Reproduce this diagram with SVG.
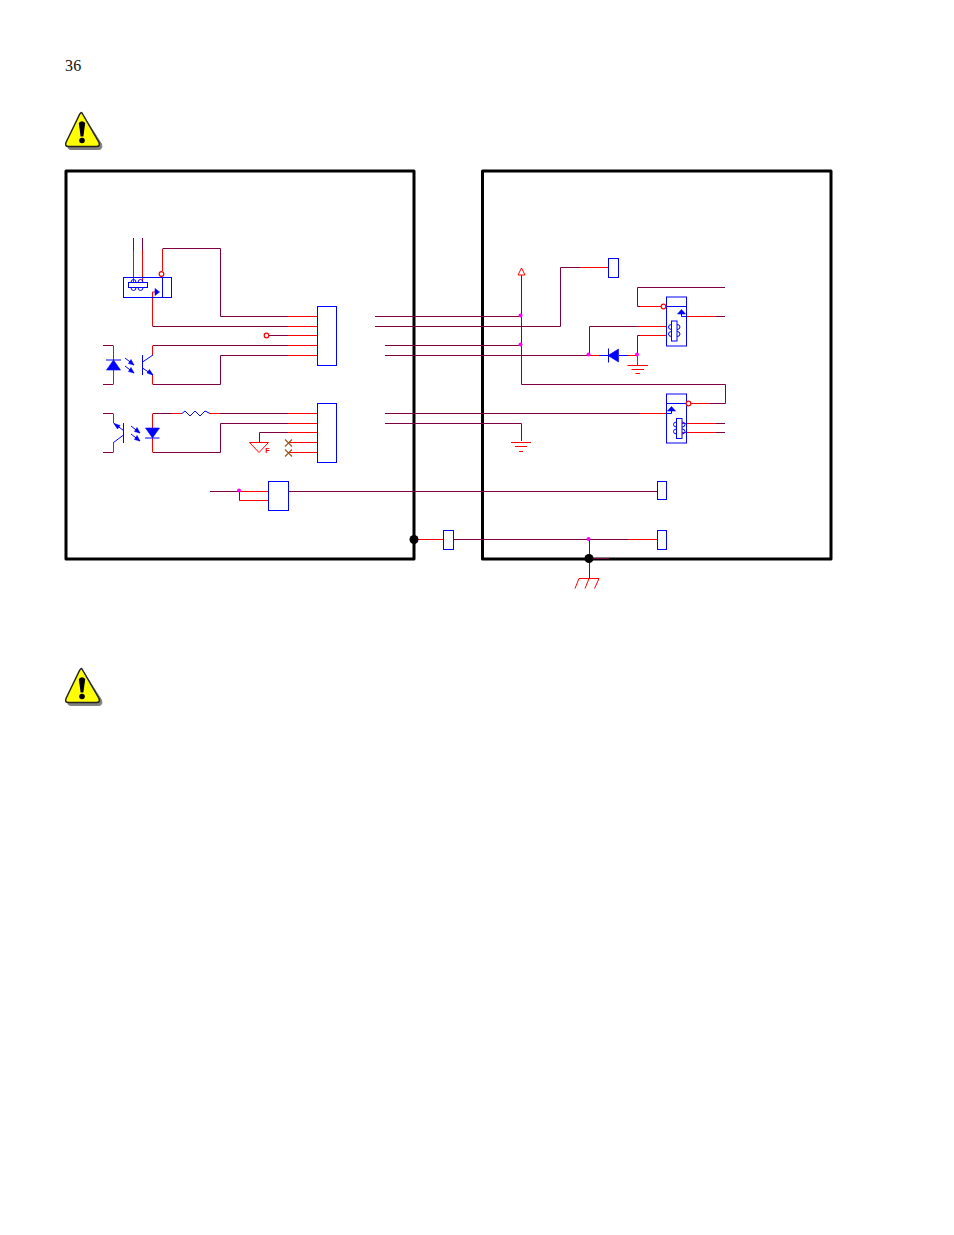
<svg xmlns="http://www.w3.org/2000/svg" width="954" height="1235" viewBox="0 0 954 1235">
<style>
.w{fill:none;stroke:#7f0040;stroke-width:1}
.r{fill:none;stroke:#f00;stroke-width:1}
.b{fill:none;stroke:#00f;stroke-width:1}
.bh{fill:#fff;stroke:#00f;stroke-width:1}
.bf{fill:#00f;stroke:#00f;stroke-width:.6}
.br{fill:none;stroke:#9a5a20;stroke-width:1.2}
.fr{fill:none;stroke:#000;stroke-width:3;stroke-linejoin:round}
.m{fill:#f0f}
.k{fill:#000}
.rc{fill:#fff;stroke:#f00;stroke-width:1.2}
.t{font-family:"Liberation Serif","DejaVu Serif",serif;font-size:16px;fill:#111}
.f{font-family:"Liberation Sans",sans-serif;font-size:7.500px;font-weight:bold;fill:#f00}
</style>
<defs>
<g id="warn">
<path d="M18 4 L36.500 33 Q38 38.500 33.500 38.500 L6 38.500 Q2 38.500 3 34 Z" fill="#808080" stroke="#808080" stroke-width="1"/>
<path d="M17 2 L34 31.500 Q35.500 35.500 31.500 35.500 L3.500 35.500 Q-.5 35.500 1 31.500 L14.500 3.500 Q16 .8 17 2 Z" fill="#ff0" stroke="#222" stroke-width="1.500" stroke-linejoin="round"/>
<path d="M13.800 12 Q17 8.500 20.200 12 L18.400 25.500 L15.600 25.500 Z" fill="#000"/>
<circle cx="17" cy="29.500" r="2.800" fill="#000"/>
</g>
<g id="rays">
<path class="b" d="M0 0L9 7M0 8L9 15"/>
<path class="bf" d="M9 7L3.500 5.500L6 1.500ZM9 15L3.500 13.500L6 9.500Z"/>
</g>
</defs>

<g id="page-number"><text class="t" x="65" y="71" letter-spacing=".3">36</text></g>
<g id="warning-1"><use href="#warn" x="65" y="111"/></g>
<g id="warning-2"><use href="#warn" x="65" y="667"/></g>

<g id="frame-left"><path class="fr" d="M66 171H414V559H66Z"/></g>
<g id="frame-right"><path class="fr" d="M482.500 171H831V559H482.500Z"/></g>

<g id="connectors">
<path class="w" d="M133.500 238V250M142.500 238V250"/>
<path class="r" d="M133.500 250V283M142.500 250V283"/>
<path class="r" d="M162.500 271V249"/>
<path class="w" d="M162.500 248.500H220.500V316.500H288"/>
<path class="r" d="M288 316.500H317"/>
<path class="r" d="M155 292H152.500V326"/>
<path class="w" d="M152.500 326.500H288"/>
<path class="r" d="M288 326.500H317"/>
<path class="w" d="M269 335.500H288"/>
<path class="r" d="M288 335.500H317"/>
<path class="w" d="M153 345.500H288M103 345.500H113"/>
<path class="r" d="M288 345.500H317M152.500 345.500V355M113.500 345.500V360M113.500 370V384.500M152.500 375V384.500"/>
<path class="w" d="M103 384.500H113M153 384.500H220.500V355.500H288"/>
<path class="r" d="M288 355.500H317"/>

<path class="w" d="M103 413.500H113M103 452.500H113"/>
<path class="r" d="M113.500 413.500V423M113.500 442V452.500M152.500 413.500V428M152.500 438V452.500M172 413.500H182M210 413.500H220M288 413.500H317M288 423.500H317M288 432.500H317M288 442.500H317M288 452.500H317"/>
<path class="w" d="M153 413.500H172M220 413.500H288M153 452.500H220.500V423.500H288M288 432.500H259.500V442"/>

<path class="w" d="M210 491.500H239"/>
<path class="r" d="M239 491.500H268M268 500.500H240"/>
<path class="w" d="M239.500 491.500V500.500H240M288.500 491.500H657"/>

<path class="w" d="M375 316.500H521M375 326.500H560.500V267.500H580"/>
<path class="r" d="M580 267.500H608"/>
<path class="w" d="M385 345.500H521M385 355.500H588"/>
<path class="r" d="M589 355.500H599"/>
<path class="b" d="M599 355.500H608M619 355.500H628"/>
<path class="r" d="M628 355.500H637M637.500 355V365"/>
<path class="w" d="M521.500 275V384.500H725.500V403.500H710"/>
<path class="r" d="M710 403.500H691"/>
<path class="w" d="M589.500 355V326.500H637"/>
<path class="r" d="M637 326.500H667"/>
<path class="w" d="M637.500 355V335.500H640"/>
<path class="r" d="M640 335.500H667"/>
<path class="w" d="M725 287.500H637.500V306.500H640"/>
<path class="r" d="M640 306.500H661"/>
<path class="r" d="M686 316.500H716"/>
<path class="w" d="M716 316.500H725"/>
<path class="w" d="M385 413.500H640"/>
<path class="r" d="M640 413.500H667"/>
<path class="w" d="M385 423.500H521.500V441"/>
<path class="r" d="M682 423.500H716M682 432.500H716"/>
<path class="w" d="M716 423.500H725M716 432.500H725"/>

<path class="r" d="M414 539.500H443"/>
<path class="w" d="M453.500 539.500H628M589.500 539V578M589 558.500H609"/>
<path class="r" d="M628 539.500H657"/>
<circle class="m" cx="239" cy="490.500" r="2"/>
<circle class="m" cx="520.500" cy="315.500" r="2"/>
<circle class="m" cx="520.500" cy="344.500" r="2"/>
<circle class="m" cx="588.500" cy="354.500" r="2"/>
<circle class="m" cx="637" cy="354.500" r="2"/>
<circle class="m" cx="588.500" cy="539" r="2"/>
</g>

<g id="sensor-top">
<rect class="b" x="123.500" y="277.500" width="48" height="20"/>
<path class="b" d="M162.500 277.500V297.500"/>
<rect class="b" x="128.500" y="282.500" width="19" height="5"/>
<path class="b" d="M131 282.500a2.500 3 0 0 1 5 0M138 282.500a2.500 3 0 0 1 5 0M131 287.500a2.500 3 0 0 0 5 0M138 287.500a2.500 3 0 0 0 5 0"/>
<path class="bf" d="M155 288.500L159.500 292L155 295.500Z"/>
<circle class="rc" cx="161.500" cy="274" r="2.300"/>
</g>
<g id="opto-1">
<path class="b" d="M106 360H121"/>
<path class="bf" d="M113.500 360L120.500 370H106.500Z"/>
<use href="#rays" x="125" y="358"/>
<path class="b" d="M142.500 355V375M142.500 362L153 355M142.500 368L153 375"/>
<path class="bf" d="M153 375L147 373L149.500 369.500Z"/>
</g>
<g id="opto-2">
<path class="b" d="M123.500 423V443M113.500 423L123.500 430.500M113.500 442.500L123.500 435"/>
<path class="bf" d="M114 423.500L120 425.500L117.500 429Z"/>
<use href="#rays" x="131" y="426"/>
<path class="b" d="M145 438H159.500"/>
<path class="bf" d="M145.500 428H159.500L152.500 438Z"/>
</g>
<g id="resistor"><path class="b" d="M182 413.500L185 411L190 416L195 411L200 416L205 411L210 413.500"/></g>
<g id="connector-1"><rect class="bh" x="317.500" y="306.500" width="19" height="59"/></g>
<g id="connector-2"><rect class="bh" x="317.500" y="403.500" width="19" height="59"/></g>
<g id="open-contact"><circle class="rc" cx="266.500" cy="335.500" r="2.300"/></g>
<g id="frame-ground">
<path class="r" d="M249.500 442.500H268.500L259 452.500Z"/>
<text class="f" x="265.300" y="453">F</text>
</g>
<g id="no-connect"><path class="br" d="M285 439.500L292 446.500M292 439.500L285 446.500M285 449.500L292 456.500M292 449.500L285 456.500"/></g>
<g id="fuse-box"><rect class="bh" x="268.500" y="481.500" width="20" height="29"/></g>
<g id="terminal-a"><rect class="bh" x="608.500" y="258.500" width="10" height="19"/></g>
<g id="terminal-b"><rect class="bh" x="657.500" y="481.500" width="9" height="18"/></g>
<g id="terminal-c"><rect class="bh" x="657.500" y="530.500" width="9" height="19"/></g>
<g id="terminal-d"><rect class="bh" x="443.500" y="530.500" width="10" height="19"/></g>
<g id="relay-1">
<rect class="b" x="666.500" y="297" width="20" height="49"/>
<path class="b" d="M666.500 306.500H686.500M681.500 314V316.500H686"/>
<path class="bf" d="M677.500 314L681.500 309.500L685.500 314Z"/>
<rect class="b" x="671.500" y="321" width="5.500" height="20"/>
<path class="b" d="M671.500 324.500a3 2.500 0 0 0 -3 2.500a3 2.500 0 0 0 3 2.500M671.500 331.500a3 2.500 0 0 0 -3 2.500a3 2.500 0 0 0 3 2.500M677 324.500a3 2.500 0 0 1 3 2.500a3 2.500 0 0 1 -3 2.500M677 331.500a3 2.500 0 0 1 3 2.500a3 2.500 0 0 1 -3 2.500"/>
<circle class="rc" cx="663.500" cy="306.500" r="2.300"/>
</g>
<g id="relay-2">
<rect class="b" x="666.500" y="394" width="20" height="49"/>
<path class="b" d="M666.500 403.500H686.500M671.500 411V413.500H667"/>
<path class="bf" d="M667.500 411L671.500 406.500L675.500 411Z"/>
<rect class="b" x="676.500" y="418.500" width="5.500" height="20"/>
<path class="b" d="M676.500 422a3 2.500 0 0 0 -3 2.500a3 2.500 0 0 0 3 2.500M676.500 429a3 2.500 0 0 0 -3 2.500a3 2.500 0 0 0 3 2.500M682 422a3 2.500 0 0 1 3 2.500a3 2.500 0 0 1 -3 2.500M682 429a3 2.500 0 0 1 3 2.500a3 2.500 0 0 1 -3 2.500"/>
<circle class="rc" cx="688.500" cy="403.500" r="2.300"/>
</g>
<g id="diode"><path class="bf" d="M608 355.500L618.500 349V362Z"/><path class="b" d="M608.500 348.500V362.500"/></g>
<g id="ground-1"><path class="r" d="M627.500 365.500H648M631.500 369.500H644M635.500 373.500H640"/></g>
<g id="ground-2"><path class="r" d="M511 442.500H531M515 446.500H527M519 451.500H523"/></g>
<g id="vcc"><path class="r" d="M518 275H525L521.500 268Z"/></g>
<g id="junction-left"><circle class="k" cx="414" cy="539.500" r="4.500"/></g>
<g id="junction-right"><circle class="k" cx="589" cy="558.500" r="4.500"/></g>
<g id="earth"><path class="r" d="M579 578.500H599M579 578.500L575 588.500M589 578.500L585 588.500M599 578.500L594.500 588.500"/></g>
</svg>
